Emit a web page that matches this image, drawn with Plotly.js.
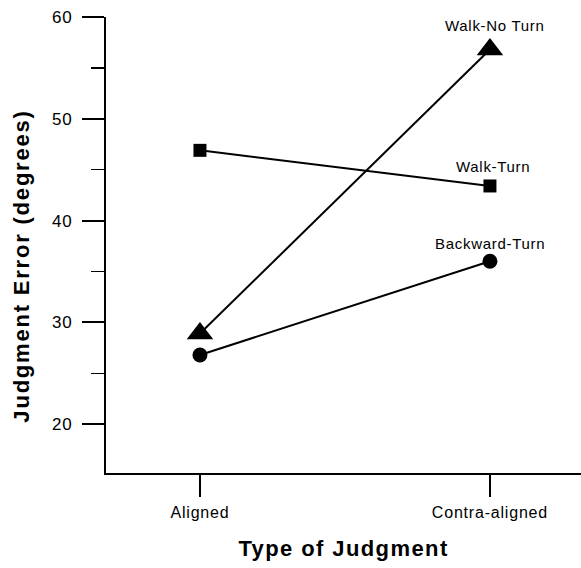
<!DOCTYPE html>
<html>
<head>
<meta charset="utf-8">
<script src="https://cdn.plot.ly/plotly-3.0.1.min.js"></script>
<style>
  html, body { margin: 0; padding: 0; background: #fff; }
  #chart { width: 581px; height: 568px; }
  .xtick text, .ytick text { letter-spacing: 0.8px; }
  .annotation-text { letter-spacing: 0.7px; }
  .annotation[data-index="0"] .annotation-text { letter-spacing: 1.8px; }
  .xtitle { letter-spacing: 1.4px; }
</style>
</head>
<body>
<div id="chart"></div>
<script>
const categories = ['Aligned', 'Contra-aligned'];
const seriesNames = ['Walk-No Turn', 'Walk-Turn', 'Backward-Turn'];
const walkNoTurn = [28.9, 56.8];
const walkTurn = [46.9, 43.4];
const backwardTurn = [26.8, 36.0];
const yTickVals = [20, 30, 40, 50, 60];
const yTickText = ['20', '30', '40', '50', '60'];

const font = 'Liberation Sans, Arial, Helvetica, sans-serif';

function series(name, y, symbol, size) {
  return {
    type: 'scatter', mode: 'lines+markers', name: name,
    x: categories, y: y,
    line: { color: '#000', width: 2 },
    marker: { symbol: symbol, size: size, color: '#000' },
    cliponaxis: false
  };
}

const data = [
  series(seriesNames[0], walkNoTurn, 'triangle-up', 23),
  series(seriesNames[1], walkTurn, 'square', 13),
  series(seriesNames[2], backwardTurn, 'circle', 15)
];

const layout = {
  width: 581, height: 568,
  margin: { l: 106, r: 0, t: 17, b: 95 },
  paper_bgcolor: '#fff', plot_bgcolor: '#fff',
  showlegend: false,
  font: { family: font, color: '#000', size: 16 },
  xaxis: {
    type: 'category',
    range: [-0.324, 1.314],
    showline: true, linecolor: '#000', linewidth: 2,
    ticks: 'outside', ticklen: 22, tickwidth: 2, tickcolor: '#000',
    showgrid: false, zeroline: false,
    tickfont: { family: font, size: 16, color: '#000' },
    ticklabelstandoff: 2,
    title: { text: 'Type of Judgment', font: { family: font, size: 22, color: '#000', weight: 'bold' }, standoff: 20 }
  },
  yaxis: {
    range: [15.2, 60],
    tickvals: yTickVals, ticktext: yTickText,
    showline: true, linecolor: '#000', linewidth: 2,
    ticks: 'outside', ticklen: 22, tickwidth: 2, tickcolor: '#000',
    minor: { dtick: 5, ticks: 'outside', ticklen: 13, tickwidth: 1.5, tickcolor: '#000', showgrid: false },
    showgrid: false, zeroline: false,
    tickfont: { family: font, size: 17, color: '#000' },
    ticklabelstandoff: 6
  },
  annotations: [
    { xref: 'paper', yref: 'paper', x: -0.177, y: 0.455, xanchor: 'center', yanchor: 'middle',
      text: 'Judgment Error (degrees)', textangle: -90, showarrow: false,
      font: { family: font, size: 22, color: '#000', weight: 'bold' } },
    { x: categories[1], y: walkNoTurn[1], text: seriesNames[0], showarrow: false, yshift: 24, xshift: 5,
      font: { family: font, size: 15, color: '#000' } },
    { x: categories[1], y: walkTurn[1], text: seriesNames[1], showarrow: false, yshift: 19, xshift: 3,
      font: { family: font, size: 15, color: '#000' } },
    { x: categories[1], y: backwardTurn[1], text: seriesNames[2], showarrow: false, yshift: 18, xshift: 0,
      font: { family: font, size: 15, color: '#000' } }
  ]
};

Plotly.newPlot('chart', data, layout, { displayModeBar: false, staticPlot: true });
</script>
</body>
</html>
